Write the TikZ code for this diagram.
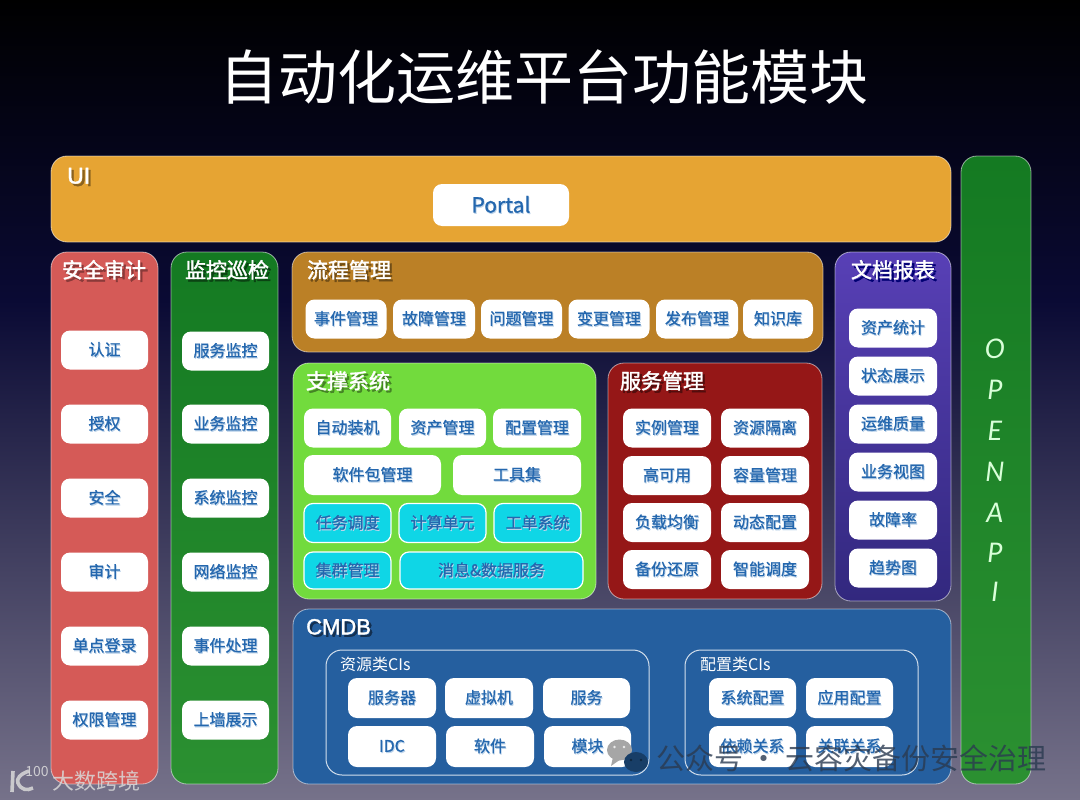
\documentclass[tikz,border=0pt]{standalone}
\usepackage{fontspec}
\usepackage{xcolor}
\setmainfont{Noto Sans CJK SC}
\newfontfamily\apifont{Lato}
\newfontfamily\latinfont[FakeBold=1.6]{Liberation Sans}
\newfontfamily\headfont[FakeBold=1.8]{Noto Sans CJK SC}
\newfontfamily\btnfont[FakeBold=0.8]{Noto Sans CJK SC}
\usepackage{tikz}

\definecolor{btnblue}{HTML}{2467AE}
\definecolor{btnglow}{HTML}{BCD3EA}
\definecolor{uiorange}{HTML}{E6A433}
\definecolor{safered}{HTML}{D55A57}
\definecolor{flowbrown}{HTML}{BB8026}
\definecolor{supportgreen}{HTML}{72DB3D}
\definecolor{servicered}{HTML}{951717}
\definecolor{cmdbblue}{HTML}{255F9F}
\definecolor{cellcyan}{HTML}{0FD6E6}
\definecolor{leaftop}{HTML}{147A22}
\definecolor{leafbot}{HTML}{2B9031}
\definecolor{wxdark}{HTML}{2A3A50}

\newcommand{\bt}[1]{\leavevmode\raisebox{-1.5pt}{\rlap{\kern.8pt\raisebox{-1.2pt}{\textcolor{btnglow}{#1}}}#1}}
\newcommand{\headtxt}[2]{\leavevmode\rlap{\kern2.4pt\raisebox{-2.4pt}{\textcolor{#1}{#2}}}\textcolor{white}{#2}}

\tikzset{
  panel/.style={draw=white, draw opacity=.55, line width=.8pt, rounded corners=16pt, inner sep=0pt},
  btn/.style={fill=white, rounded corners=9pt, inner sep=0pt, minimum height=39pt, text=btnblue, font=\btnfont\fontsize{16}{16}\selectfont},
  cell/.style={btn, fill=cellcyan, draw=white, line width=1.2pt},
  head/.style={inner sep=0pt, font=\headfont\fontsize{21}{21}\selectfont},
  cilabel/.style={inner sep=0pt, text=white, font=\fontsize{16}{16}\selectfont},
  apiletter/.style={inner sep=0pt, text=white!85!green, font=\apifont\itshape\fontsize{27}{27}\selectfont},
}

\begin{document}
\begin{tikzpicture}[x=1pt, y=-1pt]
\useasboundingbox (0,0) rectangle (1080,800);

% background
\shade[top color=black, bottom color={rgb,255:red,10;green,10;blue,52}] (0,0) rectangle (1080,300);
\shade[top color={rgb,255:red,10;green,10;blue,52}, bottom color={rgb,255:red,118;green,114;blue,138}] (0,300) rectangle (1080,800);

% title
\node[inner sep=0pt, text=white, font=\fontsize{59}{59}\selectfont] (mainTitle) at (544,77) {自动化运维平台功能模块};

% UI
\node[panel, fill=uiorange, minimum width=900pt, minimum height=86pt] (uiPanel) at (501,199) {};
\node[head, anchor=west, font=\latinfont\fontsize{23}{23}\selectfont] (uiHead) at (67,177) {\headtxt{uiorange!60!black}{UI}};
\node[btn, minimum width=136pt, minimum height=42pt, font=\btnfont\fontsize{21}{21}\selectfont] (portalBtn) at (501,205) {\bt{Portal}};

% OPENAPI
\node[panel, top color=leaftop, bottom color=leafbot, minimum width=70pt, minimum height=628pt] (apiPanel) at (996,470) {};
\node[apiletter] (apiO) at (995,349) {O};
\node[apiletter] (apiP) at (995,390) {P};
\node[apiletter] (apiE) at (995,431) {E};
\node[apiletter] (apiN) at (995,472) {N};
\node[apiletter] (apiA) at (995,513) {A};
\node[apiletter] (apiQ) at (995,553) {P};
\node[apiletter] (apiI) at (995,592) {I};

% security
\node[panel, fill=safered, minimum width=107pt, minimum height=532pt] (safePanel) at (104.5,518) {};
\node[head] (safeHead) at (104,271) {\headtxt{safered!65!black}{安全审计}};
\node[btn, minimum width=87pt] (safeA) at (104.5,350) {\bt{认证}};
\node[btn, minimum width=87pt] (safeB) at (104.5,424) {\bt{授权}};
\node[btn, minimum width=87pt] (safeC) at (104.5,498) {\bt{安全}};
\node[btn, minimum width=87pt] (safeD) at (104.5,572) {\bt{审计}};
\node[btn, minimum width=87pt] (safeE) at (104.5,646) {\bt{单点登录}};
\node[btn, minimum width=87pt] (safeF) at (104.5,720) {\bt{权限管理}};

% monitoring
\node[panel, top color=leaftop, bottom color=leafbot, minimum width=107pt, minimum height=532pt] (watchPanel) at (224.5,518) {};
\node[head] (watchHead) at (227,271) {\headtxt{leaftop!55!black}{监控巡检}};
\node[btn, minimum width=87pt] (watchA) at (225.5,351) {\bt{服务监控}};
\node[btn, minimum width=87pt] (watchB) at (225.5,424) {\bt{业务监控}};
\node[btn, minimum width=87pt] (watchC) at (225.5,498) {\bt{系统监控}};
\node[btn, minimum width=87pt] (watchD) at (225.5,572) {\bt{网络监控}};
\node[btn, minimum width=87pt] (watchE) at (225.5,646) {\bt{事件处理}};
\node[btn, minimum width=87pt] (watchF) at (225.5,720) {\bt{上墙展示}};

% process
\node[panel, fill=flowbrown, minimum width=531pt, minimum height=100pt] (flowPanel) at (557.5,302) {};
\node[head] (flowHead) at (349,271) {\headtxt{flowbrown!60!black}{流程管理}};
\node[btn, minimum width=81pt] (flowA) at (346,319) {\bt{事件管理}};
\node[btn, minimum width=82pt] (flowB) at (434,319) {\bt{故障管理}};
\node[btn, minimum width=81pt] (flowC) at (521.5,319) {\bt{问题管理}};
\node[btn, minimum width=81pt] (flowD) at (609,319) {\bt{变更管理}};
\node[btn, minimum width=82pt] (flowE) at (697,319) {\bt{发布管理}};
\node[btn, minimum width=70pt] (flowF) at (778,319) {\bt{知识库}};

% support
\node[panel, fill=supportgreen, minimum width=303pt, minimum height=236pt] (backPanel) at (444.5,481) {};
\node[head] (backHead) at (348,382) {\headtxt{supportgreen!60!black}{支撑系统}};
\node[btn, minimum width=87pt] (backA) at (347.5,428) {\bt{自动装机}};
\node[btn, minimum width=87pt] (backB) at (442.5,428) {\bt{资产管理}};
\node[btn, minimum width=88pt] (backC) at (537,428) {\bt{配置管理}};
\node[btn, minimum width=137pt, minimum height=40pt] (backD) at (372.5,475) {\bt{软件包管理}};
\node[btn, minimum width=128pt, minimum height=40pt] (backE) at (517,475) {\bt{工具集}};
\node[cell, minimum width=87pt] (backF) at (347.5,523) {\bt{任务调度}};
\node[cell, minimum width=87pt] (backG) at (442.5,523) {\bt{计算单元}};
\node[cell, minimum width=87pt] (backH) at (537.5,523) {\bt{工单系统}};
\node[cell, minimum width=87pt, minimum height=37pt] (backI) at (347.5,570.5) {\bt{集群管理}};
\node[cell, minimum width=183pt, minimum height=37pt] (backJ) at (491.5,570.5) {\bt{消息\&数据服务}};

% service
\node[panel, fill=servicered, minimum width=214pt, minimum height=236pt] (servPanel) at (715,481) {};
\node[head] (servHead) at (662,382) {\headtxt{servicered!55!black}{服务管理}};
\node[btn, minimum width=88pt] (servA) at (667,428) {\bt{实例管理}};
\node[btn, minimum width=88pt] (servB) at (765,428) {\bt{资源隔离}};
\node[btn, minimum width=88pt] (servC) at (667,475.5) {\bt{高可用}};
\node[btn, minimum width=88pt] (servD) at (765,475.5) {\bt{容量管理}};
\node[btn, minimum width=88pt] (servE) at (667,522.5) {\bt{负载均衡}};
\node[btn, minimum width=88pt] (servF) at (765,522.5) {\bt{动态配置}};
\node[btn, minimum width=88pt] (servG) at (667,569.5) {\bt{备份还原}};
\node[btn, minimum width=88pt] (servH) at (765,569.5) {\bt{智能调度}};

% documents
\node[panel, top color={rgb,255:red,88;green,64;blue,182}, bottom color={rgb,255:red,50;green,40;blue,126}, minimum width=116pt, minimum height=349pt] (docPanel) at (893,426.5) {};
\node[head] (docHead) at (893,271) {\headtxt{blue!45!black}{文档报表}};
\node[btn, minimum width=88pt] (docA) at (893,328) {\bt{资产统计}};
\node[btn, minimum width=88pt] (docB) at (893,376) {\bt{状态展示}};
\node[btn, minimum width=88pt] (docC) at (893,424) {\bt{运维质量}};
\node[btn, minimum width=88pt] (docD) at (893,472) {\bt{业务视图}};
\node[btn, minimum width=88pt] (docE) at (893,520) {\bt{故障率}};
\node[btn, minimum width=88pt] (docF) at (893,568) {\bt{趋势图}};

% CMDB
\node[panel, fill=cmdbblue, minimum width=658pt, minimum height=175pt] (cmdbPanel) at (622,696.5) {};
\node[head, anchor=west, font=\latinfont\fontsize{22}{22}\selectfont] (cmdbHead) at (306,628) {\headtxt{cmdbblue!50!black}{CMDB}};

\node[panel, draw opacity=.8, line width=1pt, minimum width=323pt, minimum height=125pt] (resBox) at (487.5,712.5) {};
\node[cilabel, anchor=west] (resLabel) at (340,664) {资源类CIs};
\node[btn, minimum width=88pt, minimum height=40pt] (resA) at (392,698) {\bt{服务器}};
\node[btn, minimum width=88pt, minimum height=40pt] (resB) at (489,698) {\bt{虚拟机}};
\node[btn, minimum width=87pt, minimum height=40pt] (resC) at (586.5,698) {\bt{服务}};
\node[btn, minimum width=88pt, minimum height=41pt] (resD) at (392,746.5) {\bt{IDC}};
\node[btn, minimum width=88pt, minimum height=41pt] (resE) at (490,746.5) {\bt{软件}};
\node[btn, minimum width=87pt, minimum height=41pt] (resF) at (587.5,746.5) {\bt{模块}};

\node[panel, draw opacity=.8, line width=1pt, minimum width=233pt, minimum height=125pt] (cfgBox) at (801.5,712.5) {};
\node[cilabel, anchor=west] (cfgLabel) at (700,664) {配置类CIs};
\node[btn, minimum width=87pt, minimum height=40pt] (cfgA) at (752.5,698) {\bt{系统配置}};
\node[btn, minimum width=87pt, minimum height=40pt] (cfgB) at (849.5,698) {\bt{应用配置}};
\node[btn, minimum width=87pt, minimum height=41pt] (cfgC) at (752.5,746.5) {\bt{依赖关系}};
\node[btn, minimum width=87pt, minimum height=41pt] (cfgD) at (849.5,746.5) {\bt{关联关系}};

% watermark right
\fill[gray!70] (619.5,750) ellipse (12.5pt and 10.5pt);
\fill[gray!70] (613,757) -- (611,766) -- (621,759) -- cycle;
\fill[white!85!gray] (614.5,747) circle (1.4pt) (624,747) circle (1.4pt);
\fill[cmdbblue!65!black] (636,762) ellipse (12pt and 10pt);
\fill[cmdbblue!40!black] (631,760) circle (1.3pt) (641,760) circle (1.3pt);
\node[inner sep=0pt, anchor=west, text=wxdark, text opacity=.8, font=\fontsize{29}{30}\selectfont] (wxMark) at (656,758) {公众号 · 云容灾备份安全治理};

% watermark left
\draw[line width=3.6pt, white!70!gray, opacity=.85] (13,771) -- (12,792);
\draw[line width=3.6pt, white!70!gray, opacity=.85] (29,771) .. controls (20,774) and (16,779) .. (18,783) .. controls (21,790) and (27,791) .. (33,788);
\node[inner sep=0pt, text=white!75!gray, text opacity=.85, font=\fontsize{14}{14}\selectfont] (kMark) at (37,772) {100};
\node[inner sep=0pt, anchor=west, text=white!70!gray, text opacity=.85, font=\fontsize{22}{22}\selectfont] (kText) at (52,781) {大数跨境};

\end{tikzpicture}
\end{document}
